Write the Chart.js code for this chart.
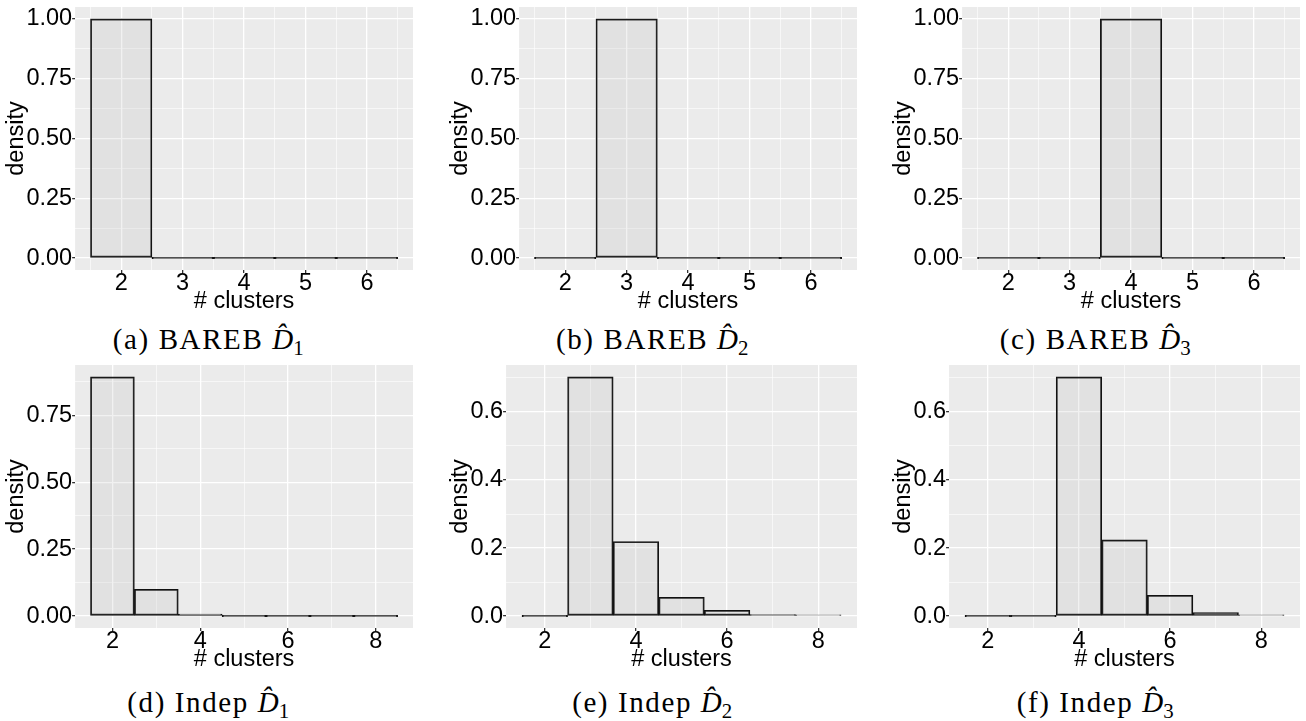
<!DOCTYPE html>
<html>
<head>
<meta charset="utf-8">
<script src="https://cdn.jsdelivr.net/npm/chart.js@4.4.1/dist/chart.umd.min.js"></script>
<style>
  body { margin: 0; background: #fff; width: 1306px; height: 721px; position: relative; overflow: hidden; }
  .panel { position: absolute; }
  .caption {
    position: absolute; width: 320px; text-align: center;
    font-family: "Liberation Serif", "DejaVu Serif", serif; font-size: 29px; line-height: 34px;
    letter-spacing: 1.6px; color: #000; white-space: nowrap;
  }
  .caption i { letter-spacing: 0; }
  .caption .sub { position: relative; top: 0.3em; font-size: 0.72em; }
</style>
</head>
<body>
<script>
// histogram values: share of runs per number of clusters
const topClusters = [2, 3, 4, 5, 6];
const barebD1 = [1, 0, 0, 0, 0];
const barebD2 = [0, 1, 0, 0, 0];
const barebD3 = [0, 0, 1, 0, 0];

const bottomClusters = [2, 3, 4, 5, 6, 7, 8];
const indepD1 = [0.893, 0.1, 0.007, 0, 0, 0, 0];
const indepD2 = [0, 0.703, 0.219, 0.055, 0.017, 0.004, 0.001];
const indepD3 = [0, 0, 0.703, 0.224, 0.061, 0.01, 0.002];

// axis breaks
const topXTicks = [2, 3, 4, 5, 6];
const bottomXTicks = [2, 4, 6, 8];
const yTicksBareb = [0, 0.25, 0.5, 0.75, 1];
const yTicksIndep1 = [0, 0.25, 0.5, 0.75];
const yTicksIndep23 = [0, 0.2, 0.4, 0.6];

const captionLetters = ["a", "b", "c", "d", "e", "f"];
const captionMethods = ["BAREB", "BAREB", "BAREB", "Indep", "Indep", "Indep"];
const captionIndex = [1, 2, 3, 1, 2, 3];

const SANS = '"Liberation Sans", Arial, Helvetica, sans-serif';
const colLeft = [0, 444, 887];
const rowTop = [0, 358];
const CW = 419, CH = 320;

// ggplot-style minor breaks: midpoints between majors, plus one step outside each end
function minorBreaks(majors, lo, hi) {
  const out = [];
  const step = majors[1] - majors[0];
  const all = [majors[0] - step, ...majors, majors[majors.length - 1] + step];
  for (let i = 0; i < all.length - 1; i++) {
    const m = (all[i] + all[i + 1]) / 2;
    if (m > lo && m < hi) out.push(m);
  }
  return out;
}

const isMajor = (majors, v) => majors.some((m) => Math.abs(m - v) < 1e-9);

const panelBg = {
  id: "panelBg",
  beforeDraw(chart) {
    const { ctx, chartArea: a } = chart;
    ctx.save();
    ctx.fillStyle = "#ebebeb";
    ctx.fillRect(a.left, a.top, a.right - a.left, a.bottom - a.top);
    ctx.restore();
  },
};

// labels must not push the panel edges inward
const noEdgePadding = (s) => {
  s.paddingTop = 0;
  s.paddingBottom = 0;
  s.paddingLeft = 0;
  s.paddingRight = 0;
};

function makePanel(idx, clusters, values, xMajors, yMajors, decimals) {
  const col = idx % 3, row = Math.floor(idx / 3);
  const wrap = document.createElement("div");
  wrap.className = "panel";
  wrap.style.left = colLeft[col] + "px";
  wrap.style.top = rowTop[row] + "px";
  const canvas = document.createElement("canvas");
  canvas.width = CW;
  canvas.height = CH;
  wrap.appendChild(canvas);
  document.body.appendChild(wrap);

  // ranges with 5% expansion
  const x0 = clusters[0] - 0.5, x1 = clusters[clusters.length - 1] + 0.5;
  const xPad = 0.05 * (x1 - x0);
  const yMax = Math.max(...values);
  const yPad = 0.05 * yMax;
  const xMin = x0 - xPad, xMax = x1 + xPad;
  const yMin = -yPad, yTop = yMax + yPad;

  const xTicks = [...xMajors, ...minorBreaks(xMajors, xMin, xMax)].sort((a, b) => a - b);
  const yTicks = [...yMajors, ...minorBreaks(yMajors, yMin, yTop)].sort((a, b) => a - b);

  const major = (majors, c) => c.tick && isMajor(majors, c.tick.value);
  const gridFor = (majors) => ({
    offset: false,
    color: "#ffffff",
    lineWidth: (c) => (major(majors, c) ? 1.3 : 0.6),
    tickColor: (c) => (major(majors, c) ? "#333333" : "rgba(0,0,0,0)"),
    tickLength: 3,
    drawTicks: true,
  });

  new Chart(canvas, {
    type: "bar",
    data: {
      datasets: [
        {
          data: clusters.map((c, i) => ({ x: c, y: values[i] })),
          backgroundColor: "rgba(190,190,190,0.22)",
          borderColor: "#111111",
          borderWidth: 1.2,
          borderSkipped: false,
          barThickness: "flex",
          categoryPercentage: 1,
          barPercentage: 1,
          minBarLength: 1.3,
        },
      ],
    },
    options: {
      responsive: false,
      animation: false,
      layout: { padding: { top: 7, right: 6, bottom: 0, left: 0 } },
      plugins: { legend: { display: false }, tooltip: { enabled: false } },
      scales: {
        x: {
          type: "linear",
          min: xMin,
          max: xMax,
          offset: false,
          afterBuildTicks: (s) => { s.ticks = xTicks.map((v) => ({ value: v })); },
          afterFit: noEdgePadding,
          ticks: {
            autoSkip: false,
            maxRotation: 0,
            padding: -1,
            color: "#000",
            font: { family: SANS, size: 23.5, lineHeight: 1 },
            callback: (v) => (isMajor(xMajors, v) ? String(v) : ""),
          },
          grid: gridFor(xMajors),
          border: { display: false },
          title: {
            display: true,
            text: "# clusters",
            color: "#000",
            font: { family: SANS, size: 23.5, lineHeight: 0.8 },
            padding: { top: -1.9, bottom: 8.6 },
          },
        },
        y: {
          type: "linear",
          min: yMin,
          max: yTop,
          afterBuildTicks: (s) => { s.ticks = yTicks.map((v) => ({ value: v })); },
          afterFit: noEdgePadding,
          ticks: {
            autoSkip: false,
            padding: 0,
            color: "#000",
            font: { family: SANS, size: 23.5, lineHeight: 1 },
            callback: (v) => (isMajor(yMajors, v) ? v.toFixed(decimals) : ""),
          },
          grid: gridFor(yMajors),
          border: { display: false },
          title: {
            display: true,
            text: "density",
            color: "#000",
            font: { family: SANS, size: 23.5, lineHeight: 0.8 },
            padding: { top: 7.6, bottom: 0 },
          },
        },
      },
    },
    plugins: [panelBg],
  });

  // caption under each subplot
  const cap = document.createElement("div");
  cap.className = "caption";
  cap.style.left = colLeft[col] + 209 - 160 + "px";
  cap.style.top = (row === 0 ? 322 : 684.7) + "px";
  cap.innerHTML = `(${captionLetters[idx]}) ${captionMethods[idx]} <i>D&#770;</i><span class="sub">${captionIndex[idx]}</span>`;
  document.body.appendChild(cap);
}

makePanel(0, topClusters, barebD1, topXTicks, yTicksBareb, 2);
makePanel(1, topClusters, barebD2, topXTicks, yTicksBareb, 2);
makePanel(2, topClusters, barebD3, topXTicks, yTicksBareb, 2);
makePanel(3, bottomClusters, indepD1, bottomXTicks, yTicksIndep1, 2);
makePanel(4, bottomClusters, indepD2, bottomXTicks, yTicksIndep23, 1);
makePanel(5, bottomClusters, indepD3, bottomXTicks, yTicksIndep23, 1);
</script>
</body>
</html>
